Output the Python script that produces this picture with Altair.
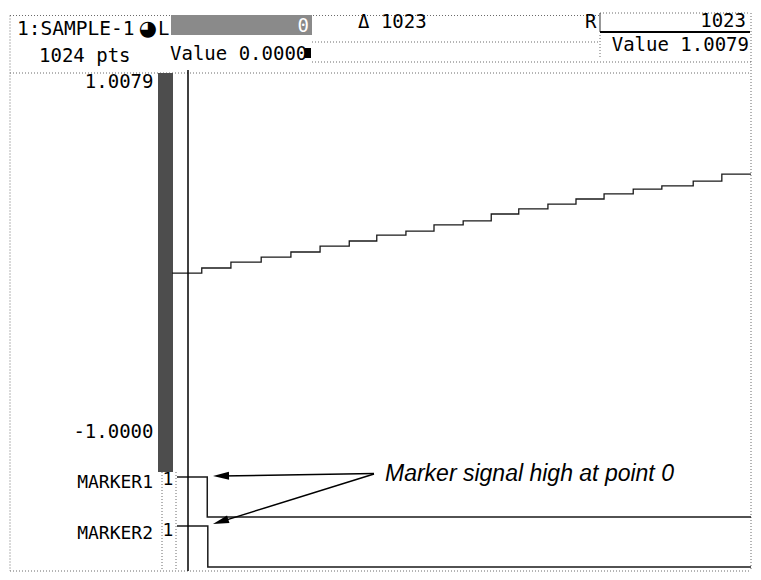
import altair as alt
import pandas as pd

# ---------------- values ----------------
# analogue trace: 20-level staircase, level k begins at sample step_start_pts[k]
step_start_pts = [-29, 25, 78, 133, 187, 240, 293, 343, 396, 447,
                  500, 551, 601, 654, 705, 756, 809, 861, 918, 970]
step_values = [-0.094, -0.065, -0.031, -0.002, 0.027, 0.061, 0.090, 0.124, 0.147, 0.182,
               0.205, 0.245, 0.274, 0.302, 0.331, 0.360, 0.388, 0.406, 0.434, 0.474]
last_pt = 1023

y_tick_values = [1.0079, -1.0000]

marker_names = ["MARKER1", "MARKER2"]
marker_start_pts = [-20, -20]
marker_fall_pts = [35, 36]
marker_high = [1, 1]
marker_low = [0, 0]

cursor_L_pt = [0]

trace_name = "1:SAMPLE-1"
header_L_value = "0"
header_delta = "\u0394 1023"
header_R_value = "1023"
header_points = "1024 pts"
header_L_read = "Value 0.0000"
header_R_read = "Value 1.0079"
annotation_text = "Marker signal high at point 0"

# ---------------- chart ----------------
MONO = "DejaVu Sans Mono"
DOT = "#6a6a6a"
one = pd.DataFrame({"k": [1]})
X = alt.Scale(domain=[0, 1023], range=[180, 743], nice=False, zero=False)

layers = []


def seg(x1, y1, x2, y2, color=DOT, dash=(1, 2), width=1.0):
    kw = dict(color=color, strokeWidth=width)
    if dash:
        kw["strokeDash"] = list(dash)
    return alt.Chart(one).mark_rule(**kw).encode(
        x=alt.value(x1), y=alt.value(y1), x2=alt.value(x2), y2=alt.value(y2))


def box(x1, y1, x2, y2, fill):
    return alt.Chart(one).mark_rect(color=fill).encode(
        x=alt.value(x1), y=alt.value(y1), x2=alt.value(x2), y2=alt.value(y2))


def txt(s, x, y, size=19, align="left", font=MONO, color="black", style="normal"):
    return alt.Chart(one).mark_text(text=s, align=align, baseline="middle", font=font,
                                    fontSize=size, color=color, fontStyle=style).encode(
        x=alt.value(x), y=alt.value(y))


# frame (dotted)
layers += [
    seg(2, 7.5, 592, 7.5),
    seg(2, 7.5, 2, 563),
    seg(743, 5, 743, 563),
    seg(304, 34, 592, 34),
    seg(304, 54, 743, 54),
    seg(2, 65, 743, 65),
    seg(2, 563, 743, 563),
    seg(592, 27, 592, 50),
    seg(154, 464, 154, 563),
    seg(168, 464, 168, 563),
]

# header
layers += [
    box(163, 7, 304, 27, "#8a8a8a"),
    txt(header_L_value, 301, 18, align="right", color="white"),
    txt(trace_name, 9, 21, size=19.5),
    txt("\u25D5", 140, 21, size=21, align="center", font="DejaVu Sans"),
    txt("L", 150, 21),
    txt(header_delta, 350, 14),
    txt("R", 577, 14),
    seg(592, 5, 742, 5),
    seg(592, 5, 592, 24, color="#333", dash=None, width=1),
    seg(592, 24, 742, 24, color="black", dash=None, width=2),
    txt(header_R_value, 738, 13, align="right"),
    txt(header_points, 31, 48),
    txt(header_L_read, 162, 46),
    box(297, 40, 303, 50, "black"),
    txt(header_R_read, 741, 37, align="right"),
]

# left scroll bar
layers.append(box(150, 65, 165, 464, "#4d4d4d"))

# analogue trace with its y axis labels
sig = pd.DataFrame({"pt": step_start_pts + [last_pt],
                    "v": step_values + [step_values[-1]]})
layers.append(
    alt.Chart(sig).mark_line(interpolate="step-after", color="#1a1a1a", strokeWidth=1.3).encode(
        x=alt.X("pt:Q", scale=X, axis=None),
        y=alt.Y("v:Q",
                scale=alt.Scale(domain=[-1.0, 1.0079], range=[423, 73], nice=False, zero=False),
                axis=alt.Axis(values=y_tick_values, orient="left", offset=-147, ticks=False,
                              domain=False, grid=False, title=None, labelFont=MONO,
                              labelFontSize=19, labelColor="black", labelPadding=2,
                              labelExpr="(datum.value < 0 ? '-' : '') + format(abs(datum.value), '.4f')")),
    )
)

# marker traces
marker_ranges = [[509, 469], [559, 518]]
marker_label_y = [475, 526]
for i, name in enumerate(marker_names):
    mdf = pd.DataFrame({"pt": [marker_start_pts[i], marker_fall_pts[i], last_pt],
                        "v": [marker_high[i], marker_low[i], marker_low[i]]})
    layers.append(
        alt.Chart(mdf).mark_line(interpolate="step-after", color="#1a1a1a", strokeWidth=1.5).encode(
            x=alt.X("pt:Q", scale=X, axis=None),
            y=alt.Y("v:Q", scale=alt.Scale(domain=[0, 1], range=marker_ranges[i], nice=False,
                                           zero=False), axis=None),
        )
    )
    layers.append(txt(name, 145, marker_label_y[i], size=18, align="right"))
    layers.append(txt(str(marker_high[i]), 160, marker_label_y[i] - 3, size=18, align="center"))

# L cursor
layers.append(
    alt.Chart(pd.DataFrame({"pt": cursor_L_pt})).mark_rule(color="black", strokeWidth=1.5).encode(
        x=alt.X("pt:Q", scale=X, axis=None), y=alt.value(62), y2=alt.value(563))
)

# annotation with two arrows
ARROW = "M-1,0L1,-0.5L1,0.5Z"
layers += [
    txt(annotation_text, 377, 466, size=23, font="Liberation Sans", style="italic"),
    seg(366, 465.5, 213, 468, color="black", dash=None, width=1.5),
    seg(366, 466, 213, 513.6, color="black", dash=None, width=1.5),
    alt.Chart(one).mark_point(shape=ARROW, size=256, angle=359.1, filled=True, color="black",
                              opacity=1).encode(x=alt.value(213), y=alt.value(467.9)),
    alt.Chart(one).mark_point(shape=ARROW, size=256, angle=342.65, filled=True, color="black",
                              opacity=1).encode(x=alt.value(212.6), y=alt.value(513.6)),
]

chart = alt.layer(*layers).resolve_scale(y="independent").properties(
    width=745, height=564, autosize=alt.AutoSizeParams(type="none"), padding=0,
    background="white",
).configure_view(stroke=None)

chart.save("out.html", embed_options={"renderer": "svg", "actions": False})
